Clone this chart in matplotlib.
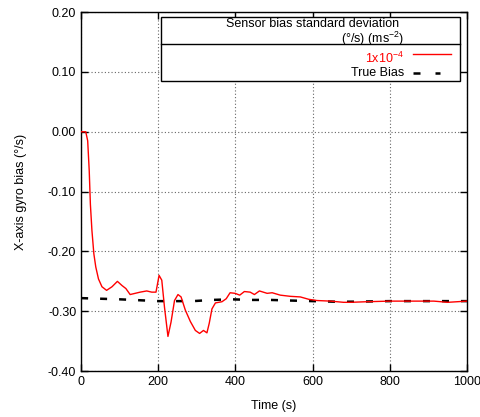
import matplotlib
matplotlib.use("Agg")
import matplotlib.pyplot as plt
from matplotlib.lines import Line2D
from matplotlib.patches import Rectangle

plt.rcParams["font.family"] = ["Liberation Sans", "DejaVu Sans"]
plt.rcParams["font.size"] = 9
plt.rcParams["mathtext.fontset"] = "custom"
plt.rcParams["mathtext.rm"] = "Liberation Sans"

# Estimated gyro bias (red)
est_t = [0, 12, 17, 21, 24, 28, 33, 38, 45, 54, 66, 80, 94, 106, 116, 127, 140, 153,
         170, 183, 194, 202, 209, 216, 225, 233, 242, 251, 259, 270, 283, 296, 307,
         317, 326, 332, 339, 348, 365, 376, 386, 399, 411, 423, 438, 449, 462, 482,
         495, 516, 542, 568, 590, 611, 646, 680, 698, 741, 800, 860, 914, 950, 1000]
est_v = [0.000, 0.000, -0.015, -0.065, -0.121, -0.165, -0.204, -0.226, -0.246,
         -0.259, -0.265, -0.259, -0.250, -0.257, -0.262, -0.272, -0.270, -0.268,
         -0.266, -0.268, -0.268, -0.240, -0.248, -0.293, -0.342, -0.318, -0.282,
         -0.272, -0.276, -0.298, -0.317, -0.332, -0.337, -0.332, -0.336, -0.320,
         -0.296, -0.286, -0.284, -0.279, -0.269, -0.270, -0.273, -0.267, -0.268,
         -0.272, -0.266, -0.270, -0.269, -0.273, -0.275, -0.276, -0.280, -0.282,
         -0.283, -0.285, -0.285, -0.284, -0.283, -0.283, -0.283, -0.285, -0.283]

# True bias (black dashed)
true_t = [0, 100, 200, 290, 340, 390, 440, 490, 540, 600, 660, 700, 800, 900, 1000]
true_v = [-0.278, -0.280, -0.283, -0.283, -0.281, -0.280, -0.281, -0.281, -0.282,
          -0.283, -0.284, -0.284, -0.283, -0.283, -0.283]

x_ticks = [0, 200, 400, 600, 800, 1000]
y_ticks = [-0.40, -0.30, -0.20, -0.10, 0.00, 0.10, 0.20]

fig = plt.figure(figsize=(4.8, 4.17), dpi=100)
ax = fig.add_axes([0.169, 0.110, 0.804, 0.861])

dash = (0, (2.8, 4.8))
ax.plot(est_t, est_v, color="red", linewidth=1.0, zorder=3)
ax.plot(true_t, true_v, color="black", linewidth=1.8, linestyle=dash, zorder=2)

ax.set_xlim(0, 1000)
ax.set_ylim(-0.40, 0.20)
ax.set_xticks(x_ticks)
ax.set_yticks(y_ticks)
ax.set_yticklabels([f"{v:.2f}" for v in y_ticks])
ax.tick_params(direction="in", top=True, right=True, length=5, width=1)
ax.grid(True, color="0.4", linestyle=(0, (1, 2)), linewidth=0.8)
for s in ax.spines.values():
    s.set_linewidth(1.0)
ax.set_xlabel("Time (s)", labelpad=9)
ax.set_ylabel("X-axis gyro bias (°/s)", labelpad=15)

# gnuplot-style key box
tr = ax.transAxes
x0, x1 = 0.207, 0.982
y0, y1, ysep = 0.808, 0.986, 0.911
ax.add_patch(Rectangle((x0, y0), x1 - x0, y1 - y0, transform=tr, facecolor="white",
                       edgecolor="black", linewidth=1.0, zorder=5))
ax.add_line(Line2D([x0, x1], [ysep, ysep], transform=tr, color="black", linewidth=1.0,
                   zorder=6))
tx = 0.837
ax.text(0.60, 0.958, "Sensor bias standard deviation", transform=tr, ha="center",
        va="baseline", zorder=7)
ax.text(tx, 0.913, "(°/s) (ms$^{-2}$)", transform=tr, ha="right", va="baseline",
        zorder=7)
ax.text(tx, 0.857, "1x10$^{-4}$", transform=tr, ha="right", va="baseline",
        color="red", zorder=7)
ax.text(tx, 0.830, "True Bias", transform=tr, ha="right", va="center", zorder=7)
ax.add_line(Line2D([0.861, 0.958], [0.883, 0.883], transform=tr, color="red",
                   linewidth=1.0, zorder=7))
ax.add_line(Line2D([0.861, 0.931], [0.830, 0.830], transform=tr, color="black",
                   linewidth=1.8, linestyle=(0, (2.8, 6.0)), zorder=7))

fig.savefig("out.png", dpi=100)
